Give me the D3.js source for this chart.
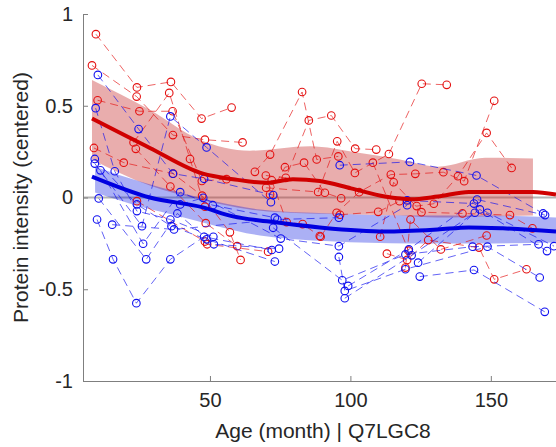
<!DOCTYPE html>
<html>
<head>
<meta charset="utf-8">
<script src="https://cdn.jsdelivr.net/npm/d3@7"></script>
<style>
  html, body { margin: 0; padding: 0; background: #fff; }
  svg { display: block; font-family: "Liberation Sans", Arial, Helvetica, sans-serif; }
</style>
</head>
<body>
<div id="chart"></div>
<script>
/* longitudinal protein intensity, red vs blue group, with smoothed mean + band */

var xTicks = [50, 100, 150];
var yTicks = [-1, -0.5, 0, 0.5, 1];
var xTitle = 'Age (month) | Q7LGC8';
var yTitle = 'Protein intensity (centered)';

/* per-subject trajectories [age, value] */
var redSubjects = [
  [[9.4, 0.89], [24.0, 0.60], [36.1, 0.63], [47.0, 0.43], [57.7, 0.49]],
  [[8.0, 0.72], [23.9, 0.55], [36.8, 0.34], [48.2, 0.315], [61.6, 0.30]],
  [[10.0, 0.53], [24.9, 0.47], [36.7, 0.47], [47.1, 0.09], [55.9, 0.10]],
  [[8.7, 0.27], [19.3, 0.19], [36.9, 0.13], [47.2, 0.01], [57.1, -0.19], [60.9, -0.34]],
  [[23.6, 0.265], [35.9, 0.06], [48.5, -0.14], [59.7, -0.265]],
  [[22.8, 0.30], [35.5, 0.57], [42.9, 0.21], [48.2, -0.05]],
  [[24.0, -0.02], [48.2, -0.24], [49.0, -0.255], [70.7, -0.295]],
  [[66.0, 0.14], [71.4, 0.234], [82.8, 0.575], [88.0, 0.207], [95.7, 0.224]],
  [[69.9, 0.12], [77.0, 0.107], [85.2, 0.42], [93.2, 0.447], [101.7, 0.266], [109.2, 0.261]],
  [[71.4, 0.016], [76.7, 0.165], [83.5, 0.19], [90.9, 0.026], [96.7, -0.004]],
  [[72.0, 0.094], [77.3, -0.134], [83.0, -0.145], [89.1, -0.21]],
  [[70.0, 0.053], [88.5, 0.03], [95.3, 0.306], [101.6, 0.134], [113.7, 0.237], [125.4, 0.62], [134.3, 0.614]],
  [[89.4, -0.214], [95.1, -0.083], [103.1, 0.029], [114.4, 0.125], [123.1, 0.129], [133.1, 0.138], [140.5, 0.089], [151.2, 0.527]],
  [[96.3, -0.094], [109.9, -0.078], [117.5, -0.02], [123.6, -0.047], [129.7, -0.034], [138.3, 0.116], [148.5, 0.352], [157.4, 0.161]],
  [[110.6, -0.214], [115.4, 0.083], [125.3, -0.08], [139.9, -0.087], [156.8, -0.096], [164.8, -0.168]],
  [[113.0, -0.306], [120.2, -0.34], [127.7, -0.232], [145.8, -0.273], [151.2, -0.446], [162.7, -0.391]],
  [[119.6, -0.382], [121.4, -0.12], [132.2, -0.283], [148.5, -0.207]],
  [[108.0, 0.19], [120.7, -0.29]]
];

var blueSubjects = [
  [[10.1, 0.668], [24.6, 0.373], [36.8, 0.13], [47.9, 0.102], [72.5, 0.013]],
  [[9.3, 0.487], [16.1, 0.143], [24.0, -0.074], [35.9, -0.12], [51.2, -0.214]],
  [[9.0, 0.21], [24.0, -0.038], [36.3, -0.156], [48.8, -0.228], [73.1, -0.349]],
  [[9.0, 0.185], [25.8, -0.156], [35.9, 0.442], [48.8, 0.273], [71.7, -0.026]],
  [[11.0, 0.148], [26.2, -0.252], [39.4, 0.029], [51.0, -0.042], [73.1, -0.11]],
  [[10.4, -0.005], [27.3, -0.337], [38.4, -0.087], [51.4, -0.255], [74.6, -0.279]],
  [[9.8, -0.12], [15.5, -0.337], [23.8, -0.576], [35.9, -0.337], [47.9, -0.214], [72.0, -0.286]],
  [[15.2, -0.148], [37.2, -0.174], [74.0, -0.12], [95.9, -0.11]],
  [[39.4, -0.038], [47.6, -0.002], [75.2, -0.224], [95.9, -0.265], [120.2, -0.042]],
  [[72.5, -0.165], [97.1, -0.451], [119.6, -0.31], [143.5, -0.268], [167.0, -0.255]],
  [[95.9, -0.324], [98.0, -0.509], [119.6, -0.391], [148.8, -0.268], [167.4, -0.436]],
  [[96.2, 0.176], [121.2, 0.194], [144.9, 0.12], [168.6, -0.087]],
  [[99.2, -0.482], [120.8, -0.283], [145.1, -0.011], [169.3, -0.096]],
  [[98.0, -0.549], [121.8, -0.315], [146.1, -0.065], [170.0, -0.292]],
  [[120.2, -0.016], [144.0, -0.033], [148.8, -0.083], [172.5, -0.265]],
  [[124.7, -0.431], [144.0, -0.395], [169.2, -0.623]],
  [[124.1, -0.355], [144.3, -0.083]]
];

/* smoothed group means */
var redMeanX = [8.0, 28.6, 47.5, 58.2, 70.3, 79.5, 89.1, 100.2, 112.3, 121.5, 131.1, 142.2, 154.3, 165.0, 173.2];
var redMeanY = [0.43, 0.27, 0.13, 0.10, 0.08, 0.10, 0.09, 0.05, 0.005, -0.01, 0.005, 0.03, 0.03, 0.03, 0.016];
var blueMeanX = [8.0, 28.6, 47.5, 58.2, 70.3, 89.1, 112.3, 131.1, 142.2, 154.3, 173.2];
var blueMeanY = [0.114, 0.0, -0.054, -0.103, -0.13, -0.163, -0.185, -0.174, -0.163, -0.168, -0.185];

/* confidence bands */
var redBandX  = [8.0, 28.6, 46.4, 64.2, 85.6, 102.3, 117.6, 131.1, 148.0, 165.0];
var redBandLo = [0.207, 0.065, -0.011, -0.065, -0.087, -0.092, -0.098, -0.109, -0.103, -0.098];
var redBandHi = [0.641, 0.478, 0.315, 0.255, 0.279, 0.245, 0.207, 0.168, 0.217, 0.212];
var blueBandX  = [9.1, 25.1, 39.3, 67.8, 92.7, 121.2, 146.1, 173.2];
var blueBandLo = [0.027, -0.049, -0.103, -0.207, -0.239, -0.25, -0.25, -0.245];
var blueBandHi = [0.168, 0.087, 0.027, -0.065, -0.087, -0.098, -0.098, -0.109];

(function drawChart() {
  var W = 556, H = 447;
  var pL = 83, pR = 556, pT = 14, pB = 381;

  var svg = d3.select('#chart').append('svg')
    .attr('width', W).attr('height', H);

  var x = d3.scaleLinear().domain([4.8, 173.2]).range([pL, pR]);
  var y = d3.scaleLinear().domain([-1, 1]).range([pB, pT]);

  svg.append('defs').append('clipPath').attr('id', 'plotClip')
    .append('rect').attr('x', pL).attr('y', pT)
    .attr('width', pR - pL).attr('height', pB - pT);

  var plot = svg.append('g').attr('clip-path', 'url(#plotClip)');

  /* zero reference */
  plot.append('line')
    .attr('x1', pL).attr('x2', pR)
    .attr('y1', y(0)).attr('y2', y(0))
    .attr('stroke', '#b4b4b4').attr('stroke-width', 2);

  function band(xs, lo, hi) {
    return xs.map(function (d, i) { return { x: d, lo: lo[i], hi: hi[i] }; });
  }
  var area = d3.area()
    .x(function (d) { return x(d.x); })
    .y0(function (d) { return y(d.lo); })
    .y1(function (d) { return y(d.hi); })
    .curve(d3.curveMonotoneX);

  plot.append('path').datum(band(redBandX, redBandLo, redBandHi))
    .attr('d', area).attr('fill', '#c83232').attr('fill-opacity', 0.4);
  plot.append('path').datum(band(blueBandX, blueBandLo, blueBandHi))
    .attr('d', area).attr('fill', '#0010e0').attr('fill-opacity', 0.33);

  var traj = d3.line()
    .x(function (d) { return x(d[0]); })
    .y(function (d) { return y(d[1]); });

  function drawGroup(subjects, color) {
    var g = plot.append('g');
    g.selectAll('path').data(subjects).enter().append('path')
      .attr('d', traj)
      .attr('fill', 'none')
      .attr('stroke', color)
      .attr('stroke-opacity', 0.65)
      .attr('stroke-width', 1)
      .attr('stroke-dasharray', '8,5');
    var pts = [];
    subjects.forEach(function (s) { s.forEach(function (p) { pts.push(p); }); });
    g.selectAll('circle').data(pts).enter().append('circle')
      .attr('cx', function (d) { return x(d[0]); })
      .attr('cy', function (d) { return y(d[1]); })
      .attr('r', 3.8)
      .attr('fill', 'none')
      .attr('stroke', color)
      .attr('stroke-width', 1.1);
  }
  drawGroup(redSubjects, '#e41010');
  drawGroup(blueSubjects, '#1010f0');

  var mean = d3.line()
    .x(function (d) { return x(d[0]); })
    .y(function (d) { return y(d[1]); })
    .curve(d3.curveMonotoneX);

  plot.append('path').datum(d3.zip(redMeanX, redMeanY))
    .attr('d', mean).attr('fill', 'none')
    .attr('stroke', '#d00000').attr('stroke-width', 4);
  plot.append('path').datum(d3.zip(blueMeanX, blueMeanY))
    .attr('d', mean).attr('fill', 'none')
    .attr('stroke', '#0000e0').attr('stroke-width', 4);

  /* axes, MATLAB style: inward ticks, no box */
  var axisColor = '#7f7f7f', textColor = '#262626';

  var gx = svg.append('g').attr('transform', 'translate(0,' + pB + ')')
    .call(d3.axisBottom(x).tickValues(xTicks).tickSizeInner(-5).tickSizeOuter(0).tickPadding(12)
      .tickFormat(d3.format('d')));
  var gy = svg.append('g').attr('transform', 'translate(' + pL + ',0)')
    .call(d3.axisLeft(y).tickValues(yTicks).tickSizeInner(-5).tickSizeOuter(0).tickPadding(10)
      .tickFormat(function (d) { return String(d); }));

  [gx, gy].forEach(function (g) {
    g.select('.domain').attr('stroke', axisColor).attr('stroke-width', 1);
    g.selectAll('.tick line').attr('stroke', axisColor);
    g.selectAll('.tick text')
      .attr('fill', textColor)
      .style('font-size', '20px')
      .style('font-family', '"Liberation Sans", Arial, Helvetica, sans-serif');
  });

  svg.append('text')
    .attr('x', 323).attr('y', 438)
    .attr('text-anchor', 'middle')
    .attr('fill', textColor)
    .style('font-size', '21px')
    .text(xTitle);

  svg.append('text')
    .attr('transform', 'translate(28,' + ((pT + pB) / 2) + ') rotate(-90)')
    .attr('text-anchor', 'middle')
    .attr('fill', textColor)
    .style('font-size', '21px')
    .text(yTitle);
}());
</script>
</body>
</html>
